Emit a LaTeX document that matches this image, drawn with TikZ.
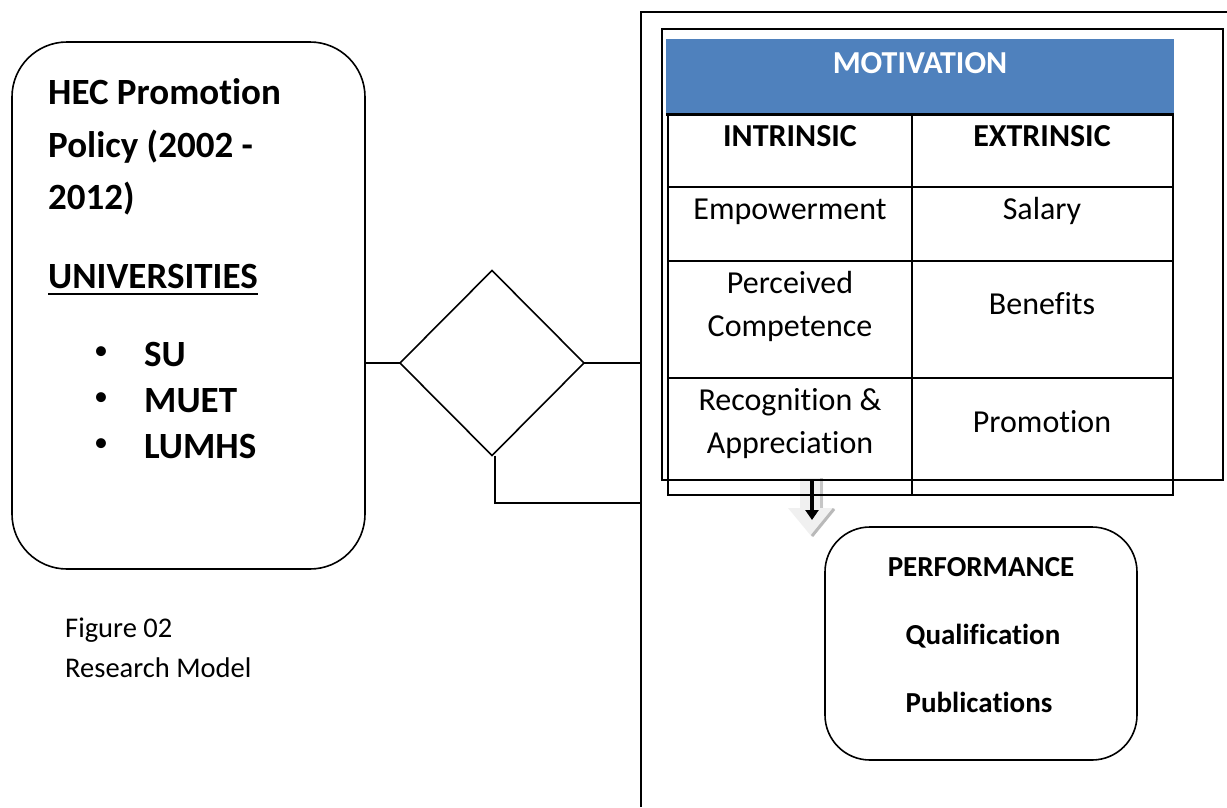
\documentclass[tikz,border=0pt]{standalone}
\usepackage{fontspec}
\setmainfont{Carlito}[Ligatures={NoCommon}]
\usetikzlibrary{shapes.geometric,arrows.meta}
\newcommand\setfs[1]{\fontsize{#1}{#1}\selectfont}
\definecolor{hdrblue}{HTML}{4F81BD}
\begin{document}
\begin{tikzpicture}[x=1pt,y=-1pt,
  frameline/.style={line width=1.6pt},
  tabline/.style={line width=2pt},
  big/.style={inner sep=0pt, font=\setfs{37}\bfseries},
  bul/.style={inner sep=0pt, font=\setfs{28}},
  cell/.style={inner sep=0pt, anchor=base, font=\setfs{32}},
  cellb/.style={inner sep=0pt, anchor=base, font=\setfs{32}\bfseries},
  perft/.style={inner sep=0pt, anchor=base, font=\setfs{29}\bfseries},
  captext/.style={inner sep=0pt, anchor=base west, font=\setfs{28.5}},
  roundbox/.style={draw, line width=1.6pt, inner sep=0pt, outer sep=0pt}
]
\useasboundingbox (0,0) rectangle (1227,807);
\fill[white] (0,0) rectangle (1227,807);

% left rounded box
\node[roundbox, rounded corners=55pt, minimum width=353pt, minimum height=527pt] (hec) at (188.5,305.5) {};
\node[big, anchor=base west] (t1) at (48,104) {HEC Promotion};
\node[big, anchor=base west] (t2) at (48,157) {Policy (2002 -};
\node[big, anchor=base west] (t3) at (48,209) {2012)};
\node[big, anchor=base west] (uni) at (48,288) {UNIVERSITIES};
\draw[line width=2.2pt] ([yshift=-6pt]uni.base west) -- ([yshift=-6pt]uni.base east);
\node[bul] (b1) at (101,353) {•};
\node[bul] (b2) at (101,399) {•};
\node[bul] (b3) at (101,445) {•};
\node[big, anchor=base west] (su) at (144,366) {SU};
\node[big, anchor=base west] (muet) at (144,412) {MUET};
\node[big, anchor=base west] (lumhs) at (144,458) {LUMHS};

% caption
\node[captext] (fig) at (65,637) {Figure 02};
\node[captext] (rm) at (65,677) {Research Model};

% right frame
\coordinate (fbot) at (641,807);
\coordinate (ftop) at (641,12);
\coordinate (fright) at (1227,12);
\draw[frameline] (fbot) -- (ftop) -- (fright);

% diamond
\node[draw, diamond, line width=1.6pt, inner sep=0pt, outer sep=0pt, minimum width=184pt, minimum height=185pt] (dia) at (492,363) {};
\draw[frameline] (dia.west) -- (dia.west -| hec.east);
\draw[frameline] (dia.east) -- (dia.east -| ftop);
\coordinate (dbot) at (641,503);
\draw[frameline] ([xshift=3pt]dia.south) |- (dbot);

% grey block arrow
\fill[gray!12] (800,478) -- (823,478) -- (823,508) -- (835,508) -- (812,537) -- (788,508) -- (800,508) -- cycle;
\draw[gray!45, line width=3pt] (821,478) -- (821,508);
\draw[gray!55, line width=3pt] (834,509) -- (812,536);

% table
\fill[hdrblue] (666,39) rectangle (1174,114);
\node[inner sep=0pt, anchor=base, font=\setfs{32}\bfseries, text=white] (mot) at (920,73) {MOTIVATION};
\coordinate (tl) at (668,114);
\coordinate (tr) at (1173,114);
\coordinate (bl) at (668,495);
\coordinate (br) at (1173,495);
\draw[tabline] (tl) -- (bl) -- (br) -- (tr);
\draw[line width=3pt] (666,114) -- (1174,114);
\draw[tabline] (912,114) -- (912,495);
\draw[tabline] (668,187) -- (1173,187);
\draw[tabline] (668,261) -- (1173,261);
\draw[tabline] (668,378) -- (1173,378);

\node[cellb] (intr) at (790,146) {INTRINSIC};
\node[cellb] (extr) at (1042,146) {EXTRINSIC};
\node[cell] (emp) at (790,219) {Empowerment};
\node[cell] (sal) at (1042,219) {Salary};
\node[cell] (per1) at (790,293) {Perceived};
\node[cell] (per2) at (790,336) {Competence};
\node[cell] (ben) at (1042,314) {Benefits};
\node[cell] (rec1) at (790,410) {Recognition \&};
\node[cell] (rec2) at (790,453) {Appreciation};
\node[cell] (pro) at (1042,432) {Promotion};

% inner rectangle (drawn over table)
\draw[frameline] (662,29) rectangle (1223,480);

% black arrow
\coordinate (aS) at (812,481);
\coordinate (aE) at (812,520);
\draw[line width=4pt, -{Triangle[width=13pt,length=10pt]}] (aS) -- (aE);

% performance box
\node[roundbox, rounded corners=45pt, minimum width=312pt, minimum height=233pt] (perf) at (981,643.5) {};
\node[perft] (p1) at (981,576) {PERFORMANCE};
\node[perft] (p2) at (983,644) {Qualification};
\node[perft] (p3) at (979,712) {Publications};
\end{tikzpicture}
\end{document}
